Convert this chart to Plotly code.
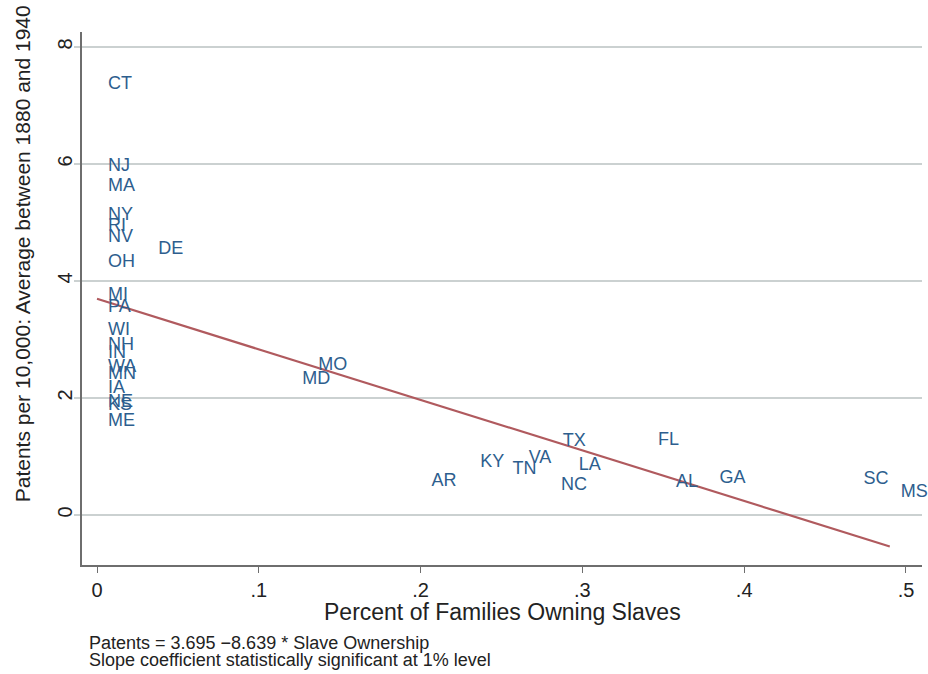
import plotly.graph_objects as go

# State-level data: share of families owning slaves (1860) vs. patents per 10,000
states = ["CT", "NJ", "MA", "NY", "RI", "NV", "DE", "OH", "MI", "PA", "WI", "NH",
          "IN", "WA", "MN", "IA", "NE", "KS", "ME",
          "MD", "MO", "AR", "KY", "TN", "VA", "TX", "LA", "NC", "FL", "AL", "GA",
          "SC", "MS"]
slave_share = [0.0, 0.0, 0.0, 0.0, 0.0, 0.0, 0.031, 0.0, 0.0, 0.0, 0.0, 0.0,
               0.0, 0.0, 0.0, 0.0, 0.0, 0.0, 0.0,
               0.120, 0.130, 0.200, 0.230, 0.250, 0.260, 0.281, 0.291, 0.280, 0.340, 0.351, 0.378,
               0.467, 0.490]
patents = [7.36, 5.95, 5.62, 5.12, 4.93, 4.74, 4.53, 4.32, 3.76, 3.54, 3.16, 2.90,
           2.76, 2.52, 2.40, 2.17, 1.93, 1.88, 1.60,
           2.31, 2.55, 0.58, 0.90, 0.77, 0.97, 1.26, 0.85, 0.50, 1.28, 0.55, 0.63,
           0.60, 0.39]

# Fitted regression reported in the note
intercept = 3.695
slope = -8.639

x_ticks = [0, 0.1, 0.2, 0.3, 0.4, 0.5]
x_tick_text = ["0", ".1", ".2", ".3", ".4", ".5"]
y_ticks = [0, 2, 4, 6, 8]

note_lines = [
    "Patents = 3.695 \u22128.639 * Slave Ownership",
    "Slope coefficient statistically significant at 1% level",
]

FONT = "Liberation Sans, Arial, Helvetica, sans-serif"
LABEL_BLUE = "#2d5e8e"
FIT_RED = "#b05a5e"
GRID = "#cbd1d1"
AXIS = "#6e6e6e"
TEXT = "#222222"

x_min, x_max = min(slave_share), max(slave_share)
fit_x = [x_min, x_max]
fit_y = [intercept + slope * v for v in fit_x]

fig = go.Figure()

fig.add_trace(go.Scatter(
    x=fit_x, y=fit_y, mode="lines",
    line=dict(color=FIT_RED, width=2.2),
    hoverinfo="skip", showlegend=False,
))

fig.add_trace(go.Scatter(
    x=slave_share, y=patents, text=states,
    mode="markers+text",
    marker=dict(size=16, opacity=0),
    textposition="middle right",
    textfont=dict(family=FONT, size=18, color=LABEL_BLUE),
    cliponaxis=False,
    showlegend=False,
))

fig.update_xaxes(
    range=[-0.00927, 0.5099],
    tickvals=x_ticks, ticktext=x_tick_text,
    ticks="outside", ticklen=6, tickcolor=AXIS, tickwidth=1.2,
    tickfont=dict(family=FONT, size=20, color=TEXT),
    showgrid=False, zeroline=False,
    showline=True, linecolor=AXIS, linewidth=1.5,
)
fig.update_yaxes(
    range=[-0.855, 8.256],
    tickvals=y_ticks, tickangle=-90,
    ticks="outside", ticklen=6, tickcolor=GRID, tickwidth=2,
    ticklabelstandoff=-6,
    tickfont=dict(family=FONT, size=20, color=TEXT),
    showgrid=True, gridcolor=GRID, gridwidth=2,
    zeroline=False,
    showline=True, linecolor=AXIS, linewidth=1.5,
)

annotations = [
    dict(text="Percent of Families Owning Slaves", x=0.501, y=-0.088,
         xref="paper", yref="paper", xanchor="center", yanchor="middle",
         showarrow=False, font=dict(family=FONT, size=23, color=TEXT)),
    dict(text="Patents per 10,000: Average between 1880 and 1940", x=-0.0714, y=0.583,
         xref="paper", yref="paper", xanchor="center", yanchor="middle", textangle=-90,
         showarrow=False, font=dict(family=FONT, size=21, color=TEXT)),
]
for i, line in enumerate(note_lines):
    annotations.append(dict(
        text=line, x=0.006, y=-0.1463 - i * 0.0319,
        xref="paper", yref="paper", xanchor="left", yanchor="middle",
        showarrow=False, font=dict(family=FONT, size=18, color=TEXT),
    ))

fig.update_layout(
    width=928, height=674,
    margin=dict(l=82, r=6, t=32, b=109),
    paper_bgcolor="white", plot_bgcolor="white",
    annotations=annotations,
    showlegend=False,
)

fig.write_html("out.html")
